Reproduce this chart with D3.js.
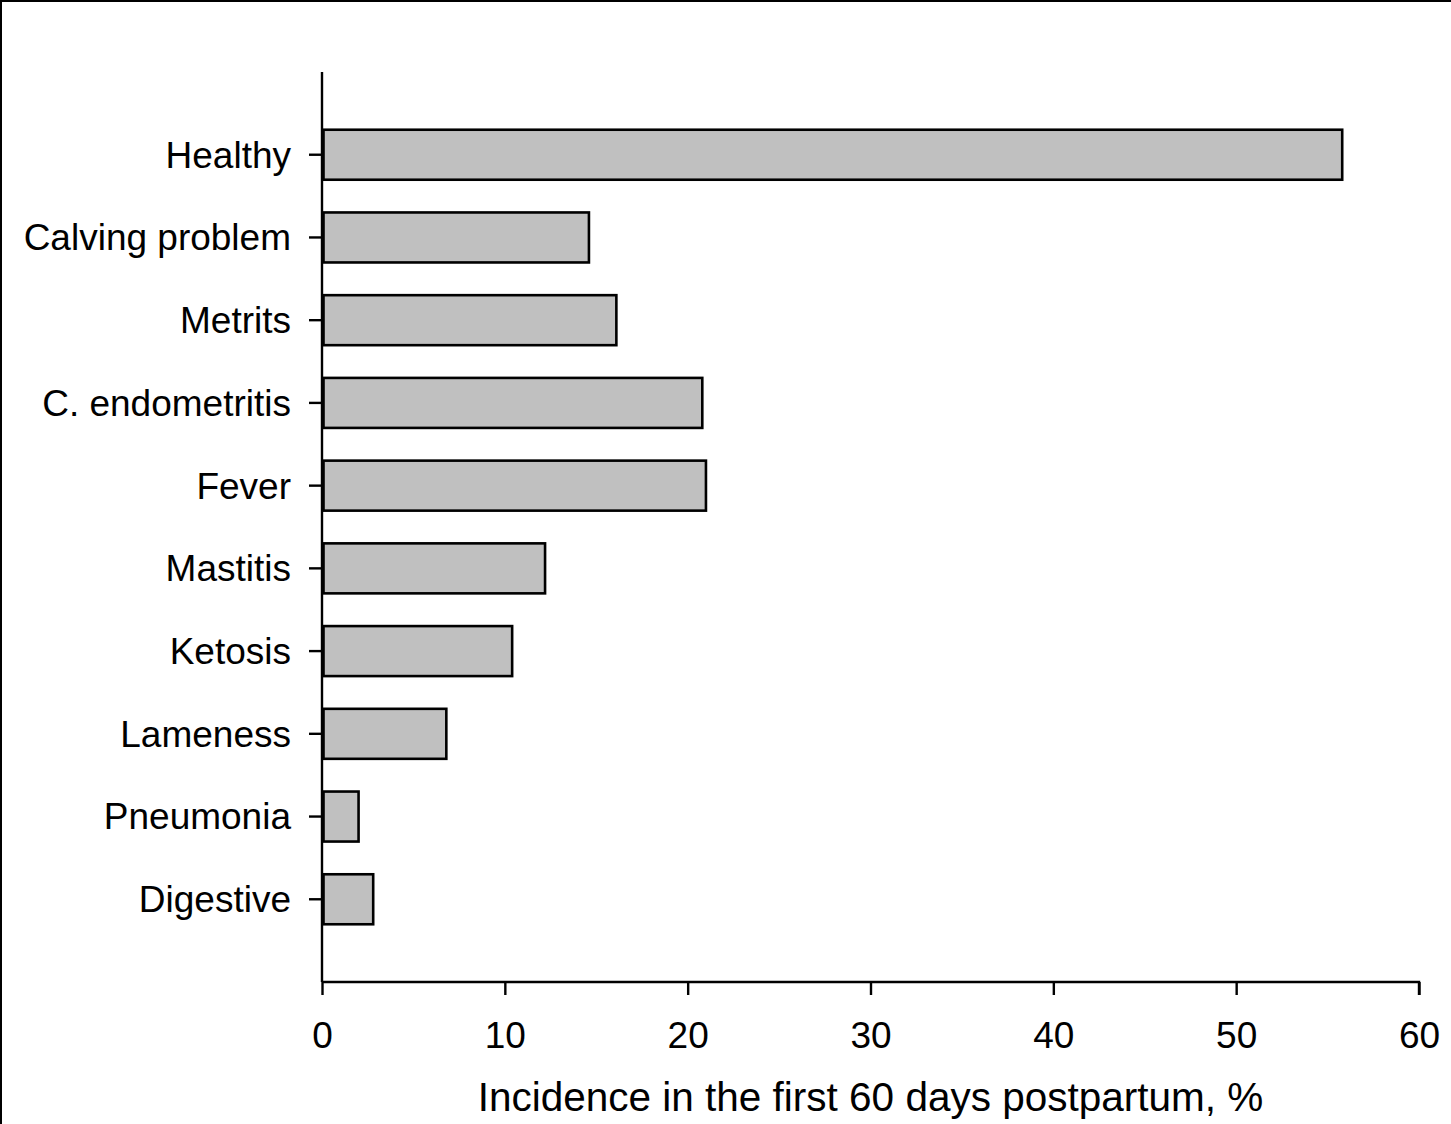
<!DOCTYPE html>
<html><head><meta charset="utf-8">
<script src="https://cdn.jsdelivr.net/npm/d3@7"></script>
<style>html,body{margin:0;padding:0;background:#fff;}svg{display:block;}</style>
</head><body>
<svg id="c" width="1451" height="1124"></svg>
<script>
const categories = ["Healthy","Calving problem","Metrits","C. endometritis","Fever","Mastitis","Ketosis","Lameness","Pneumonia","Digestive"];
const values = [55.8,14.6,16.1,20.8,21.0,12.2,10.4,6.8,2.0,2.8];
const xTicks = [0,10,20,30,40,50,60];
const xTitle = "Incidence in the first 60 days postpartum, %";

const svg = d3.select("#c");
const font = "'Liberation Sans', Arial, sans-serif";
// frame
svg.append("line").attr("x1",0).attr("y1",1).attr("x2",1451).attr("y2",1).attr("stroke","#000").attr("stroke-width",2);
svg.append("line").attr("x1",1).attr("y1",0).attr("x2",1).attr("y2",1124).attr("stroke","#000").attr("stroke-width",2);

const x = d3.scaleLinear().domain([0,60]).range([322,1419]);
const yTop = 72, yBot = 982;
const y = d3.scalePoint().domain(["_top",...categories,"_bot"]).range([yTop,yBot]);
const barH = 50;

svg.selectAll("rect.bar").data(categories).enter().append("rect")
  .attr("class","bar")
  .attr("x", x(0)+1.5)
  .attr("y", d=>y(d)-barH/2)
  .attr("width", (d,i)=>x(values[i])-x(0)-1.5)
  .attr("height", barH)
  .attr("fill","#c0c0c0").attr("stroke","#000").attr("stroke-width",2.6);

// y axis
const gy = svg.append("g");
gy.append("line").attr("x1",322).attr("x2",322).attr("y1",yTop).attr("y2",yBot).attr("stroke","#000").attr("stroke-width",2.4);
categories.forEach(c=>{
  gy.append("line").attr("x1",309).attr("x2",322).attr("y1",y(c)).attr("y2",y(c)).attr("stroke","#000").attr("stroke-width",2.4);
  gy.append("text").attr("x",291).attr("y",y(c)).attr("dy","0.35em").attr("text-anchor","end")
    .attr("font-family",font).attr("font-size",37).text(c);
});

// x axis
const gx = svg.append("g").attr("transform",`translate(0,${yBot})`);
gx.call(d3.axisBottom(x).tickValues(xTicks).tickSize(13).tickPadding(27).tickFormat(d3.format("d")));
gx.select(".domain").attr("stroke-width",2.4).attr("d",`M${x(0)},0H${x(60)}V13`);
gx.selectAll(".tick line").attr("stroke-width",2.4);
gx.selectAll(".tick text").attr("font-family",font).attr("font-size",37).attr("fill","#000");

svg.append("text").attr("x",(x(0)+x(60))/2).attr("y",1111).attr("text-anchor","middle")
  .attr("font-family",font).attr("font-size",40.5).text(xTitle);
</script>
</body></html>
